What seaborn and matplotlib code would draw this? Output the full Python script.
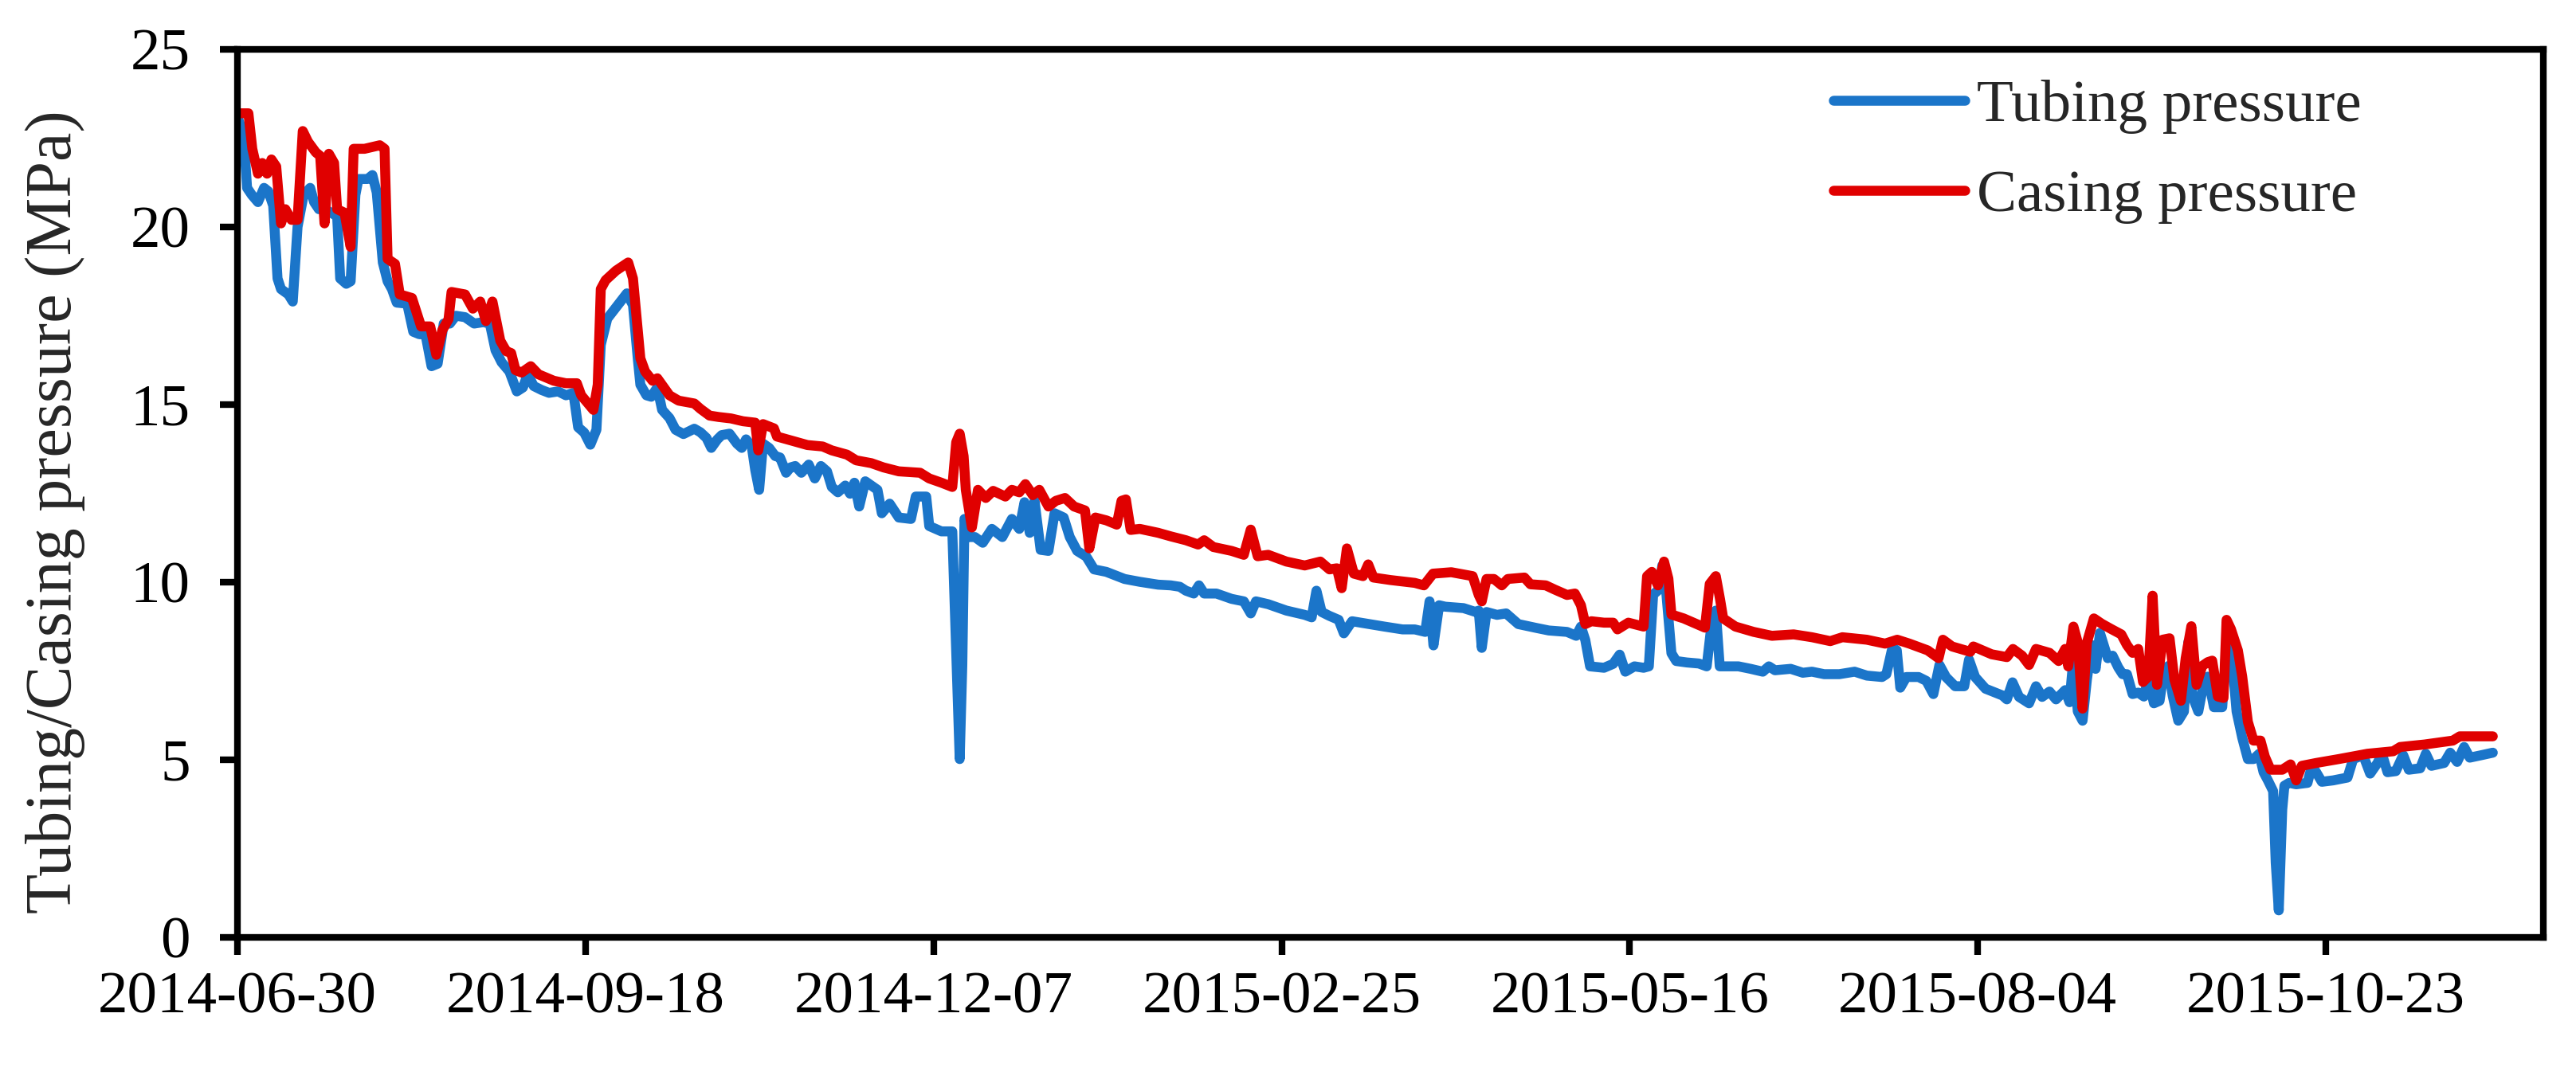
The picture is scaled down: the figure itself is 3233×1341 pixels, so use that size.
import numpy as np
import pandas as pd
import matplotlib
matplotlib.use("Agg")
import matplotlib.pyplot as plt
import matplotlib.dates as mdates
import seaborn as sns

# ---------------- data (days since 2014-06-30, pressure in MPa) ----------------
start_date = "2014-06-30"

tubing_days = [
    0, 1.4, 2.2, 3.3, 4.7, 6.1, 7.1, 8.2, 9.2, 10.0, 11.7, 12.7, 13.8, 15.2, 16.7, 17.6, 18.7,
    20.1, 21.5, 22.9, 23.6, 25.0, 26.0, 27.1, 27.8, 29.9, 31.0, 32.0, 33.4, 34.5, 35.5, 36.6,
    39.0, 40.4, 41.8, 43.2, 44.6, 46.0, 47.4, 48.8, 50.2, 52.3, 54.4, 56.5, 58.0, 59.3, 60.7,
    62.5, 64.2, 65.6, 66.7, 68.1, 69.9, 71.6, 73.7, 75.5, 77.2, 78.3, 79.7, 81.1, 82.5, 83.5,
    85.0, 87.4, 89.5, 90.9, 92.0, 92.6, 94.0, 95.1, 96.5, 97.6, 99.3, 100.7, 102.5, 105.0,
    106.4, 107.8, 108.9, 110.3, 111.3, 113.1, 114.8, 115.9, 116.9, 118.2, 119.0, 119.9, 120.8,
    122.2, 123.6, 124.7, 126.1, 127.1, 128.2, 129.6, 131.3, 132.7, 134.1, 135.5, 136.6, 138.0,
    139.7, 140.8, 141.8, 142.9, 144.3, 145.7, 147.1, 148.1, 149.9, 152.0, 154.8, 155.9, 158.3,
    159.0, 161.8, 164.3, 165.3, 166.0, 166.6, 167.1, 168.1, 169.5, 171.3, 173.4, 175.8, 178.0,
    179.7, 180.9, 182.1, 183.2, 184.6, 186.4, 187.8, 189.9, 191.3, 193.0, 195.1, 196.9, 199.7,
    203.9, 207.4, 211.6, 214.5, 216.6, 218.0, 219.8, 221.0, 222.2, 225.0, 228.5, 231.3, 232.9,
    234.1, 236.9, 241.1, 245.3, 246.9, 248.0, 249.2, 251.0, 253.1, 254.3, 256.2, 260.1, 263.6,
    267.8, 270.6, 273.0, 274.0, 274.9, 276.2, 277.6, 281.8, 284.6, 285.3, 286.0, 287.1, 289.5,
    291.6, 294.4, 298.6, 301.4, 305.6, 307.7, 308.8, 309.8, 310.9, 314.1, 316.2, 317.7, 319.0,
    321.1, 323.2, 324.4, 325.4, 326.8, 327.5, 328.3, 329.6, 330.7, 333.1, 335.9, 337.7, 338.9,
    339.8, 340.7, 342.9, 345.0, 347.8, 350.6, 352.0, 353.4, 357.0, 359.8, 361.9, 364.7, 368.2,
    371.7, 374.5, 378.0, 379.0, 380.4, 381.4, 382.2, 383.6, 386.4, 388.2, 389.8, 391.2, 392.7,
    394.8, 396.9, 398.0, 399.4, 401.8, 405.7, 406.7, 408.0, 409.5, 411.8, 413.4, 414.8, 416.5,
    418.0, 420.1, 421.1, 422.0, 423.0, 424.1, 425.1, 426.2, 427.1, 428.1, 429.9, 431.0, 432.3,
    433.3, 434.3, 435.6, 436.9, 438.2, 439.2, 440.5, 441.8, 442.8, 443.8, 444.8, 446.1, 447.4,
    448.4, 449.3, 450.7, 452.0, 452.9, 454.3, 456.2, 457.2, 458.5, 459.5, 460.8, 462.1, 463.4,
    464.7, 465.7, 466.7, 467.9, 468.5, 469.2, 470.0, 470.5, 471.6, 473.2, 475.8, 476.8, 477.8,
    479.1, 481.7, 485.0, 486.3, 488.6, 490.2, 491.9, 492.9, 494.2, 496.1, 497.8, 499.1, 501.7,
    503.0, 504.3, 507.2, 508.6, 510.2, 511.8, 513.1, 515.8, 518.4,
]
tubing_pressure = [
    23.1, 22.6, 21.1, 20.9, 20.7, 21.1, 21.0, 20.6, 18.55, 18.25, 18.1, 17.9, 20.0, 20.9, 21.1, 20.7, 20.5,
    20.5, 20.4, 20.3, 18.55, 18.4, 18.47, 20.9, 21.35, 21.35, 21.46, 20.97, 19.0, 18.47, 18.25, 17.87,
    17.84, 17.05, 16.98, 16.98, 16.08, 16.15, 17.28, 17.28, 17.5, 17.46, 17.28, 17.32, 17.28, 16.53, 16.19,
    15.93, 15.37, 15.48, 15.85, 15.52, 15.41, 15.33, 15.37, 15.26, 15.33, 14.36, 14.21, 13.87, 14.29, 16.68,
    17.42, 17.8, 18.13, 17.8, 16.3, 15.56, 15.26, 15.22, 15.48, 14.85, 14.62, 14.29, 14.17, 14.32,
    14.22, 14.06, 13.78, 14.02, 14.14, 14.18, 13.9, 13.78, 14.02, 13.82, 13.16, 12.6, 13.9,
    13.78, 13.55, 13.51, 13.08, 13.23, 13.27, 13.08, 13.31, 12.92, 13.27, 13.12, 12.68, 12.53,
    12.72, 12.49, 12.8, 12.13, 12.84, 12.72, 12.6, 11.94, 12.21, 11.82, 11.78, 12.41, 12.41,
    11.58, 11.43, 11.43, 7.65, 5.02, 7.65, 11.78, 11.27, 11.27, 11.11, 11.5, 11.27, 11.78,
    11.5, 12.25, 11.39, 12.29, 10.91, 10.88, 11.94, 11.82, 11.27, 10.88, 10.72, 10.36, 10.29,
    10.09, 10.01, 9.93, 9.91, 9.87, 9.76, 9.68, 9.91, 9.68, 9.68, 9.53, 9.46, 9.12,
    9.46, 9.38, 9.2, 9.08, 9.01, 9.76, 9.16, 9.05, 8.94, 8.56, 8.9, 8.82, 8.75,
    8.67, 8.67, 8.6, 9.46, 8.22, 9.35, 9.31, 9.27, 9.16, 9.2, 8.15, 9.16, 9.08,
    9.12, 8.82, 8.71, 8.64, 8.6, 8.49, 8.75, 8.37, 7.63, 7.59, 7.7, 7.96, 7.48,
    7.63, 7.59, 7.63, 9.65, 9.8, 10.47, 9.87, 8.0, 7.78, 7.74, 7.71, 7.63, 8.9,
    9.2, 7.63, 7.63, 7.63, 7.56, 7.48, 7.63, 7.52, 7.56, 7.45, 7.48, 7.41, 7.41,
    7.48, 7.37, 7.33, 7.41, 8.16, 8.08, 7.03, 7.33, 7.33, 7.22, 6.85, 7.67, 7.33,
    7.07, 7.07, 7.82, 7.33, 7.0, 6.81, 6.7, 7.18, 6.77, 6.59, 7.07, 6.77, 6.92,
    6.7, 6.96, 6.62, 7.86, 6.36, 6.1, 7.26, 8.23, 7.56, 8.57, 7.86, 7.93, 7.6,
    7.41, 7.41, 6.85, 6.89, 6.78, 7.3, 6.59, 6.66, 7.49, 7.64, 6.81, 6.1, 6.36,
    8.31, 6.81, 6.36, 7.19, 7.34, 6.48, 6.48, 8.23, 7.79, 6.36, 5.62, 5.02, 5.02,
    5.17, 4.65, 4.42, 4.12, 2.1, 0.76, 3.6, 4.27, 4.35, 4.31, 4.35, 4.83, 4.65,
    4.38, 4.42, 4.5, 5.02, 5.13, 4.61, 4.91, 5.17, 4.65, 4.68, 5.13, 4.72, 4.76,
    5.17, 4.83, 4.91, 5.2, 4.94, 5.36, 5.06, 5.13, 5.2,
]

casing_days = [
    0, 2.5, 3.4, 4.7, 5.7, 6.8, 7.8, 8.9, 10.0, 11.0, 12.4, 13.8, 15.0, 16.2, 18.0, 19.0, 20.0,
    21.0, 22.2, 22.9, 24.6, 26.0, 26.7, 29.2, 32.7, 33.8, 34.5, 36.2, 37.3, 40.1, 42.2, 44.3,
    45.7, 47.1, 48.5, 49.2, 52.3, 54.1, 55.8, 57.1, 58.6, 60.4, 61.8, 62.9, 63.9, 65.3, 67.4,
    69.2, 72.7, 75.5, 78.0, 79.0, 81.8, 82.8, 83.5, 84.6, 87.0, 89.8, 90.9, 92.6, 93.7, 95.4,
    96.5, 99.3, 101.4, 105.0, 106.4, 108.5, 110.6, 113.4, 116.2, 119.0, 119.7, 120.8, 123.3,
    124.0, 127.5, 131.0, 134.5, 136.6, 140.1, 142.2, 145.7, 148.5, 152.0, 156.9, 159.0, 161.8,
    164.3, 165.2, 166.0, 166.9, 167.4, 168.8, 170.2, 172.0, 173.7, 176.5, 178.0, 179.7, 181.1,
    182.8, 184.3, 186.4, 188.1, 190.2, 192.3, 194.8, 195.8, 197.2, 199.7, 202.1, 203.2, 204.2,
    205.3, 207.4, 211.6, 214.5, 218.0, 220.8, 222.2, 224.3, 228.5, 231.3, 232.9, 234.5, 236.9,
    241.1, 245.3, 248.9, 251.0, 252.7, 253.8, 255.0, 256.6, 258.7, 259.9, 261.1, 265.0, 270.6,
    272.7, 274.8, 279.0, 283.9, 285.3, 286.0, 287.1, 288.8, 290.6, 292.0, 295.8, 297.2, 300.7,
    302.8, 305.6, 307.4, 308.8, 309.8, 311.2, 314.1, 316.2, 317.2, 319.7, 323.2, 324.0, 325.1,
    326.5, 327.9, 328.9, 329.6, 332.4, 335.2, 337.3, 338.4, 339.8, 340.8, 341.5, 344.3, 348.5,
    352.7, 357.7, 361.9, 366.1, 368.9, 374.5, 378.7, 381.5, 384.3, 388.5, 391.0, 392.0, 394.1,
    398.3, 399.0, 403.2, 406.7, 408.1, 410.2, 411.8, 413.4, 416.5, 418.6, 420.1, 420.8, 422.0,
    423.0, 424.1, 425.1, 426.7, 428.5, 430.7, 433.0, 434.3, 435.6, 436.9, 438.0, 439.2, 440.2,
    441.2, 442.5, 444.1, 445.2, 446.7, 447.8, 449.1, 450.3, 451.6, 452.9, 453.9, 455.2, 456.5,
    457.2, 458.2, 459.8, 460.8, 462.1, 463.4, 465.0, 466.0, 467.3, 470.0, 471.9, 473.2, 474.5,
    477.8, 483.0, 489.6, 495.5, 497.1, 502.7, 509.2, 510.8, 515.1, 518.4,
]
casing_pressure = [
    23.2, 23.2, 22.2, 21.5, 21.8, 21.5, 21.9, 21.7, 20.1, 20.5, 20.2, 20.2, 22.7, 22.4, 22.1, 22.0, 20.1,
    22.06, 21.8, 20.5, 20.4, 19.44, 22.2, 22.2, 22.3, 22.2, 19.1, 18.96, 18.1, 18.0, 17.2, 17.2,
    16.4, 17.1, 17.4, 18.17, 18.1, 17.7, 17.9, 17.35, 17.9, 16.8, 16.5, 16.45, 15.97, 15.9, 16.08,
    15.85, 15.67, 15.6, 15.6, 15.26, 14.85, 15.56, 18.25, 18.5, 18.77, 19.0, 18.55, 16.3, 15.93, 15.67,
    15.74, 15.26, 15.11, 15.03, 14.88, 14.69, 14.65, 14.61, 14.53, 14.49, 13.71, 14.45, 14.33,
    14.1, 13.98, 13.86, 13.82, 13.71, 13.59, 13.43, 13.35, 13.23, 13.12, 13.08, 12.92, 12.8,
    12.68, 13.94, 14.18, 13.55, 12.6, 11.54, 12.6, 12.37, 12.57, 12.41, 12.6, 12.53, 12.76,
    12.45, 12.6, 12.13, 12.29, 12.37, 12.13, 12.02, 10.95, 11.82, 11.74, 11.62, 12.29, 12.33,
    11.47, 11.5, 11.39, 11.29, 11.18, 11.06, 11.18, 10.99, 10.88, 10.77, 11.48, 10.73, 10.77,
    10.58, 10.47, 10.58, 10.36, 10.39, 9.83, 10.95, 10.24, 10.17, 10.5, 10.13, 10.06, 9.98,
    9.91, 10.24, 10.28, 10.17, 9.64, 9.46, 10.09, 10.09, 9.91, 10.09, 10.13, 9.94, 9.91,
    9.79, 9.64, 9.68, 9.35, 8.82, 8.9, 8.86, 8.86, 8.67, 8.86, 8.75, 10.17, 10.29,
    9.91, 10.58, 10.1, 9.09, 8.98, 8.83, 8.72, 9.95, 10.17, 9.5, 8.98, 8.75, 8.6,
    8.49, 8.53, 8.45, 8.34, 8.45, 8.38, 8.27, 8.38, 8.27, 8.08, 7.86, 8.38, 8.19,
    8.04, 8.19, 7.97, 7.89, 8.12, 7.93, 7.67, 8.12, 8.01, 7.78, 8.12, 7.63, 8.75,
    8.3, 6.44, 8.3, 8.98, 8.83, 8.68, 8.53, 8.23, 8.01, 8.12, 7.19, 7.34, 9.62,
    7.11, 8.38, 8.42, 7.26, 6.66, 7.86, 8.76, 7.11, 7.64, 7.75, 7.79, 6.78, 6.74,
    8.94, 8.68, 8.08, 7.34, 6.07, 5.54, 5.54, 5.09, 4.72, 4.72, 4.87, 4.42, 4.83,
    4.91, 5.02, 5.17, 5.24, 5.36, 5.43, 5.54, 5.66, 5.66, 5.66,
]

series_names = ["Tubing pressure", "Casing pressure"]
series_colors = ["#1B75C9", "#E00000"]
y_ticks = [0, 5, 10, 15, 20, 25]
x_tick_step_days = 80
n_x_ticks = 7
x_span_days = 530
y_label = "Tubing/Casing pressure (MPa)"

# ---------------- build table ----------------
t0 = pd.Timestamp(start_date)
df = pd.concat([
    pd.DataFrame({"date": t0 + pd.to_timedelta(tubing_days, unit="D"),
                  "pressure": tubing_pressure, "series": series_names[0]}),
    pd.DataFrame({"date": t0 + pd.to_timedelta(casing_days, unit="D"),
                  "pressure": casing_pressure, "series": series_names[1]}),
], ignore_index=True)

# ---------------- style ----------------
sns.set_theme(style="ticks")
plt.rcParams["font.family"] = ["Liberation Serif", "DejaVu Serif"]
plt.rcParams["axes.edgecolor"] = "black"
plt.rcParams["axes.linewidth"] = 2.0
plt.rcParams["xtick.color"] = "black"
plt.rcParams["ytick.color"] = "black"

fig, ax = plt.subplots(figsize=(3233 / 300, 1341 / 300), dpi=300)
fig.subplots_adjust(left=0.0922, right=0.9873, bottom=0.1223, top=0.9538)

sns.lineplot(data=df, x="date", y="pressure", hue="series",
             palette=dict(zip(series_names, series_colors)),
             hue_order=series_names, linewidth=3.0, estimator=None,
             sort=False, ax=ax)
for ln in ax.lines:
    ln.set_solid_joinstyle("round")
    ln.set_solid_capstyle("round")

ax.set_xlim(t0, t0 + pd.Timedelta(days=x_span_days))
ax.set_ylim(y_ticks[0], y_ticks[-1])
ax.set_yticks(y_ticks)
ax.set_xticks([t0 + pd.Timedelta(days=x_tick_step_days * k) for k in range(n_x_ticks)])
ax.xaxis.set_major_formatter(mdates.DateFormatter("%Y-%m-%d"))

for s in ax.spines.values():
    s.set_visible(True)
    s.set_linewidth(2.0)
    s.set_color("black")

ax.tick_params(axis="both", which="major", direction="out", length=5.3, width=2.0,
               labelsize=18, colors="black", top=False, right=False)
ax.tick_params(axis="x", pad=5)
ax.tick_params(axis="y", pad=9)

ax.set_xlabel("")
ax.set_ylabel(y_label, fontsize=19.7)
ax.yaxis.set_label_coords(-0.066, 0.479)

handles, labels = ax.get_legend_handles_labels()
leg = ax.legend(handles, labels, loc="upper left", bbox_to_anchor=(0.692, 0.966),
                frameon=False, fontsize=18, handlelength=2.2, handletextpad=0.2,
                labelspacing=0.59, borderpad=0, borderaxespad=0)
for h in leg.get_lines():
    h.set_linewidth(3.0)

fig.savefig("out.png", dpi=300)
